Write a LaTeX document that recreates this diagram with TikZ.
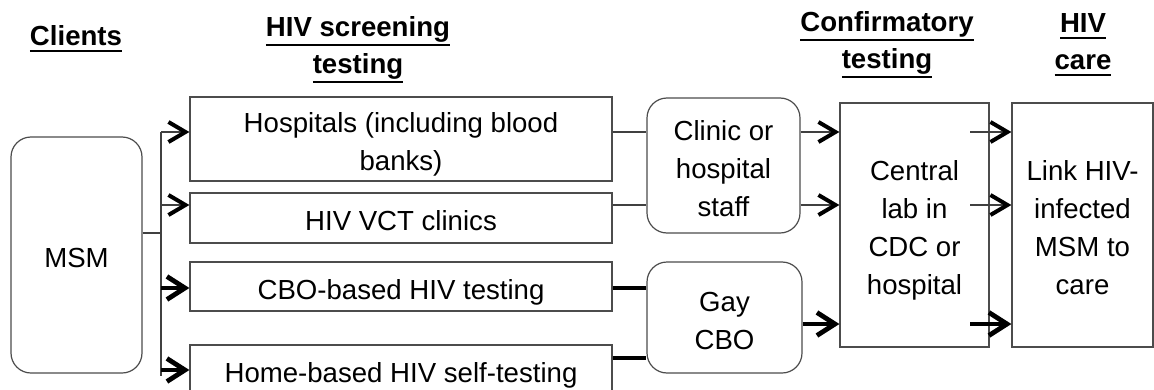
\documentclass[tikz,border=0pt]{standalone}
\usepackage{fontspec}
\setmainfont{Liberation Sans}
\usetikzlibrary{arrows.meta}
\newsavebox{\headbox}
\newcommand{\headline}[1]{\sbox{\headbox}{#1}\rlap{\raisebox{-\dimexpr0.5\dp\headbox+3.2pt\relax}{\rule{\wd\headbox}{1pt}}}\usebox{\headbox}}
\newcommand{\stagetext}[1]{\raisebox{-2.5pt}[\height][\depth]{\begin{tabular}{@{}c@{}}#1\end{tabular}}}
\begin{document}
\begin{tikzpicture}[x=0.5pt,y=-0.5pt,
	every node/.style={font=\fontsize{13.8}{19}\selectfont, inner sep=0pt},
	stagebox/.style={draw=black!70, line width=0.6pt},
	roundbox/.style={stagebox, rounded corners=10pt},
	head/.style={align=center, font=\bfseries\fontsize{13.8}{18.5}\selectfont},
	link/.style={draw=black!75, line width=0.6pt},
	heavylink/.style={draw=black, line width=2pt},
	tip/.style={-{Straight Barb[length=8.5pt,width=10pt,line width=2pt,color=black]}},
	heavytip/.style={-{Straight Barb[length=9pt,width=11.5pt,line width=2.4pt,color=black]}}]
	\useasboundingbox (0,0) rectangle (1154,390);
	%
	\node[head] (hclients) at (76,39)  {\headline{Clients}};
	\node[head] (hscreen)  at (358,50) {\headline{HIV screening}\\\headline{testing}};
	\node[head] (hconfirm) at (887,45) {\headline{Confirmatory}\\\headline{testing}};
	\node[head] (hcare)    at (1083,45) {\headline{HIV}\\\headline{care}};
	%
	\node[roundbox, minimum width=65.5pt, minimum height=118pt] (msm)   at (76.5,255)  {\stagetext{MSM}};
	\node[stagebox, minimum width=211pt, minimum height=42pt]   (hosp)  at (401,139)   {\stagetext{Hospitals (including blood\\banks)}};
	\node[stagebox, minimum width=211pt, minimum height=25pt]   (vct)   at (401,218)   {\stagetext{HIV VCT clinics}};
	\node[stagebox, minimum width=211pt, minimum height=24.5pt] (cbo)   at (401,286.5) {\stagetext{CBO-based HIV testing}};
	\node[stagebox, minimum width=211pt, minimum height=24.5pt] (home)  at (401,369.5) {\stagetext{Home-based HIV self-testing}};
	\node[roundbox, minimum width=76.5pt, minimum height=67.5pt] (staff) at (723.5,165.5) {\stagetext{Clinic or\\hospital\\staff}};
	\node[roundbox, minimum width=77.5pt, minimum height=55.5pt] (gay)   at (724.5,317.5) {\stagetext{Gay\\CBO}};
	\node[stagebox, minimum width=74.5pt, minimum height=122pt] (lab)   at (914.5,225) {\stagetext{Central\\lab in\\CDC or\\hospital}};
	\node[stagebox, minimum width=70.5pt, minimum height=122pt] (care)  at (1082.5,225) {\stagetext{Link HIV-\\infected\\MSM to\\care}};
	%
	\coordinate (bus)    at (161,233);
	\coordinate (bustop) at (161,132);
	\coordinate (busbot) at (161,376);
	\coordinate (labout) at (970,0);
	\coordinate (rowa) at (0,132);
	\coordinate (rowb) at (0,205);
	\coordinate (rowc) at (0,288);
	\coordinate (rowd) at (0,370);
	\coordinate (rowe) at (0,358);
	\coordinate (rowf) at (0,324);
	%
	\draw[link] (msm.east |- bus) -- (bus);
	\draw[link] (bustop) -- (busbot);
	\draw[link,tip] (bustop) -- (hosp.west |- rowa);
	\draw[link,tip] (bus |- rowb) -- (vct.west |- rowb);
	\draw[heavylink,heavytip] (bus |- rowc) -- (cbo.west |- rowc);
	\draw[heavylink,heavytip] (bus |- rowd) -- (home.west |- rowd);
	%
	\draw[link] (hosp.east |- rowa) -- (staff.west |- rowa);
	\draw[link] (vct.east |- rowb) -- (staff.west |- rowb);
	\draw[heavylink] (cbo.east |- rowc) -- (gay.west |- rowc);
	\draw[heavylink] (home.east |- rowe) -- (gay.west |- rowe);
	%
	\draw[link,tip] (staff.east |- rowa) -- (lab.west |- rowa);
	\draw[link,tip] (staff.east |- rowb) -- (lab.west |- rowb);
	\draw[heavylink,heavytip] (gay.east |- rowf) -- (lab.west |- rowf);
	%
	\draw[link,tip] (labout |- rowa) -- (care.west |- rowa);
	\draw[link,tip] (labout |- rowb) -- (care.west |- rowb);
	\draw[heavylink,heavytip] (labout |- rowf) -- (care.west |- rowf);
\end{tikzpicture}
\end{document}
